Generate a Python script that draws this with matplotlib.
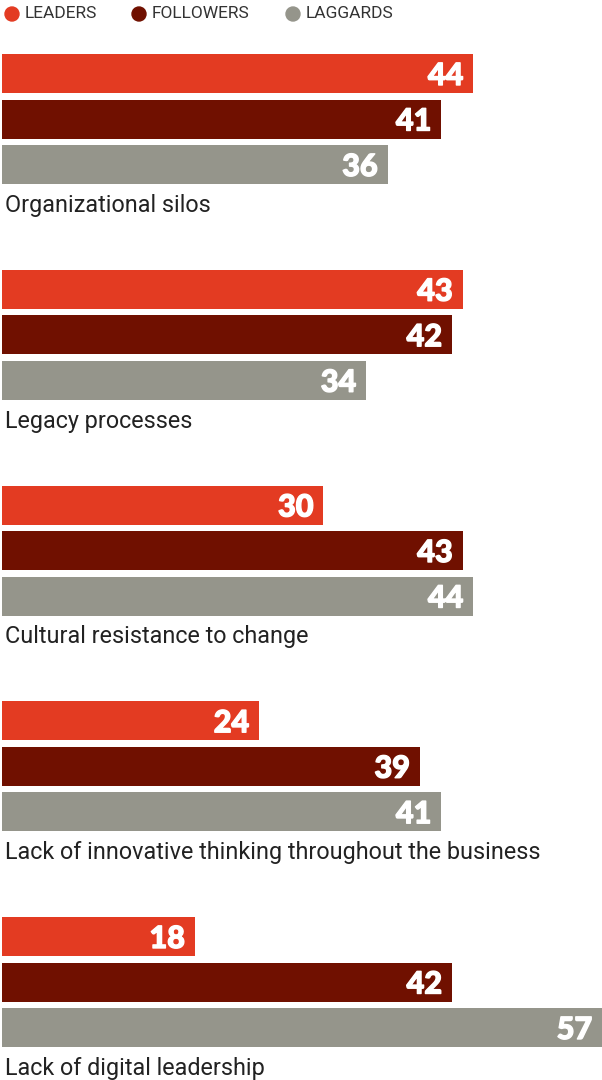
import matplotlib.pyplot as plt
import matplotlib.patheffects as pe
from matplotlib.patches import Circle
from matplotlib.transforms import IdentityTransform

categories = [
    "Organizational silos",
    "Legacy processes",
    "Cultural resistance to change",
    "Lack of innovative thinking throughout the business",
    "Lack of digital leadership",
]
series = ["LEADERS", "FOLLOWERS", "LAGGARDS"]
leaders = [44, 43, 30, 24, 18]
followers = [41, 42, 43, 39, 42]
laggards = [36, 34, 44, 41, 57]

colors = ["#E33B22", "#701000", "#95958B"]
text_color = "#222222"

W, H = 602, 1080
fig = plt.figure(figsize=(W / 100, H / 100), dpi=100)
fig.patch.set_facecolor("white")

# axes spans the whole height, y in pixel units (top = 0)
ax = fig.add_axes([2 / W, 0, 600 / W, 1])
ax.set_xlim(0, 56)
ax.set_ylim(H, 0)
ax.axis("off")

group_top = 54
group_pitch = 215.75
bar_pitch = 45.5
bar_h = 39

heavy = [pe.withStroke(linewidth=1.0, foreground="white")]

for i, cat in enumerate(categories):
    top = group_top + i * group_pitch
    for j, vals in enumerate([leaders, followers, laggards]):
        y = top + j * bar_pitch
        v = vals[i]
        ax.barh(y, v, height=bar_h, align="edge", color=colors[j])
        xe = min(v, 56)
        ax.annotate(str(v), xy=(xe, y + bar_h / 2), xytext=(-10, 0),
                    textcoords="offset pixels", ha="right", va="center_baseline",
                    color="white", fontsize=22, fontweight="black", family="Lato",
                    path_effects=heavy)
    ax.annotate(cat, xy=(0, top + 2 * bar_pitch + bar_h), xytext=(3, -28),
                textcoords="offset pixels", ha="left", va="baseline",
                color=text_color, fontsize=16.8, family="Roboto")

# legend
leg_x = [12, 139, 293]
for k, name in enumerate(series):
    fig.add_artist(Circle((leg_x[k], H - 14), 7, transform=IdentityTransform(),
                          color=colors[k]))
    fig.text((leg_x[k] + 13) / W, 1 - 14 / H, name, ha="left", va="center",
             color="#333333", fontsize=12.5, family="Roboto")

fig.savefig("out.png", dpi=100, facecolor="white")
